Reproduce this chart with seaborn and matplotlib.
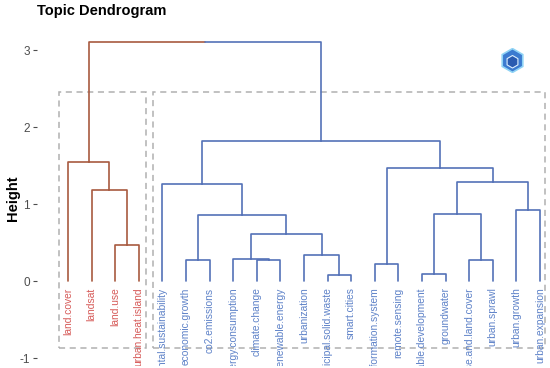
import matplotlib
matplotlib.use("Agg")
import matplotlib.pyplot as plt
import seaborn as sns
import pandas as pd
from matplotlib.patches import Rectangle, RegularPolygon

# ---------------- data ----------------
leaf_labels = [
    "land.cover", "landsat", "land.use", "urban.heat.island",
    "environmental.sustainability", "economic.growth", "co2.emissions",
    "energy.consumption", "climate.change", "renewable.energy",
    "urbanization", "municipal.solid.waste", "smart.cities",
    "geographic.information.system", "remote.sensing",
    "sustainable.development", "groundwater", "land.use.and.land.cover",
    "urban.sprawl", "urban.growth", "urban.expansion",
]
leaf_cluster = ["A"] * 4 + ["B"] * 17

# merges: (left, right, height); negative = leaf index (1-based), positive = merge number
merge_left = [-3, -2, -1, -12, -11, -9, -8, 7, -6, 9, -5, -14, -16, -18, 13, -20, 15, 12, 11, 3]
merge_right = [-4, 1, 2, -13, 4, -10, 6, 5, -7, 8, 10, -15, -17, -19, 14, -21, 16, 17, 18, 19]
merge_height = [0.47, 1.19, 1.55, 0.08, 0.34, 0.27, 0.29, 0.61, 0.27, 0.86,
                1.26, 0.23, 0.10, 0.27, 0.87, 0.93, 1.29, 1.47, 1.82, 3.10]

# cluster rectangles: (first leaf, last leaf) in leaf order
rect_leaves = [(1, 4), (5, 21)]
rect_ymin, rect_ymax = -0.87, 2.45

y_ticks = [3, 2, 1, 0, -1]

line_colors = {"A": "#A85A40", "B": "#5472B8"}
label_colors = {"A": "#D65A58", "B": "#5E82C8"}

# ---------------- build segments ----------------
node_x, node_h, node_cl = {}, {}, {}
for i in range(len(leaf_labels)):
    node_x[-(i + 1)] = i + 1
    node_h[-(i + 1)] = 0.0
    node_cl[-(i + 1)] = leaf_cluster[i]

rows = []
seg = 0
for m, (a, b, h) in enumerate(zip(merge_left, merge_right, merge_height), start=1):
    px = (node_x[a] + node_x[b]) / 2
    for c in (a, b):
        for (xx, yy) in [(node_x[c], node_h[c]), (node_x[c], h), (px, h)]:
            rows.append({"x": xx, "y": yy, "seg": seg, "cluster": node_cl[c]})
        seg += 1
    node_x[m], node_h[m] = px, h
    node_cl[m] = node_cl[a] if node_cl[a] == node_cl[b] else "root"

df = pd.DataFrame(rows)

# ---------------- plot ----------------
sns.set_theme(style="white")
plt.rcParams["font.family"] = ["Liberation Sans", "DejaVu Sans"]

W, H = 550, 368
fig = plt.figure(figsize=(W / 100, H / 100), dpi=100)
ax = fig.add_axes([37 / W, 2 / H, 513 / W, 336 / H])

sns.lineplot(data=df, x="x", y="y", units="seg", hue="cluster", estimator=None,
             sort=False, palette=line_colors, linewidth=1.2, legend=False, ax=ax)

# leaf labels
for i, (lab, cl) in enumerate(zip(leaf_labels, leaf_cluster)):
    ax.text(i + 1, -0.08, lab, rotation=90, ha="center", va="top",
            fontsize=7.4, color=label_colors[cl], clip_on=True)

# dashed cluster rectangles
for (l0, l1) in rect_leaves:
    x0 = l0 - 0.38
    x1 = l1 + (0.3 if l1 < len(leaf_labels) else 0.2)
    ax.add_patch(Rectangle((x0, rect_ymin), x1 - x0, rect_ymax - rect_ymin,
                           fill=False, edgecolor="#B0B0B0", linestyle=(0, (4, 3)),
                           linewidth=1.1))

ax.set_xlim(1 - 31 / 23.6, 21 + 10 / 23.6)
ax.set_ylim(-1.10, 3.26)
ax.set_yticks(y_ticks)
ax.set_yticklabels([str(t) for t in y_ticks], color="#4D4D4D", fontsize=8.5)
ax.set_xticks([])
ax.set_xlabel("")
ax.set_ylabel("Height", fontsize=10.5, fontweight="bold", color="black")
ax.yaxis.set_label_coords(-17 / 513, 0.5)
ax.tick_params(axis="y", which="both", left=True, length=3, width=0.8,
               color="#4D4D4D", pad=2)
for s in ax.spines.values():
    s.set_visible(False)

fig.text(37 / W, 1 - 4 / H, "Topic Dendrogram", fontsize=10.5, fontweight="bold",
         ha="left", va="top", color="black")

# small logo
lax = fig.add_axes([500 / W, (H - 73) / H, 25 / W, 25 / H])
lax.set_xlim(-1, 1)
lax.set_ylim(-1, 1)
lax.set_aspect("equal")
lax.axis("off")
lax.add_patch(RegularPolygon((0, 0), 6, radius=0.95, facecolor="#3C7BD0",
                             edgecolor="#8FD3F5", linewidth=1.2))
lax.add_patch(RegularPolygon((0, -0.1), 6, radius=0.5, facecolor="#2A5BB0",
                             edgecolor="#DDEFFF", linewidth=0.8))

fig.savefig("out.png", dpi=100)
